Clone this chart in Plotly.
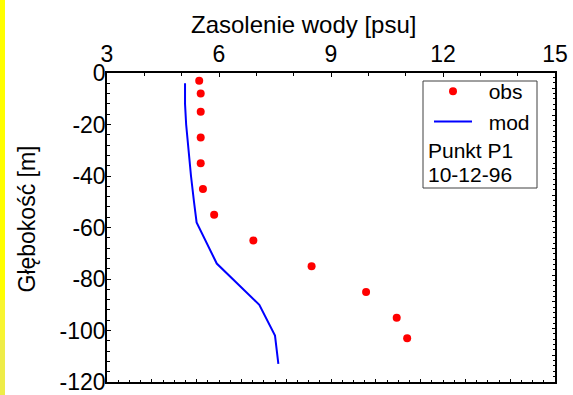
import plotly.graph_objects as go

# ---- data ----
obs_salinity = [5.47, 5.51, 5.51, 5.51, 5.51, 5.57, 5.87, 6.92, 8.48, 9.94, 10.76, 11.04]
obs_depth = [-3, -8, -15, -25, -35, -45, -55, -65, -75, -85, -95, -103]
mod_salinity = [5.09, 5.09, 5.12, 5.18, 5.25, 5.33, 5.40, 5.94, 7.08, 7.50, 7.55, 7.59]
mod_depth = [-4, -12, -20, -30, -40, -50, -58, -74, -90, -102, -108, -113]
x_ticks = [3, 6, 9, 12, 15]
y_ticks = [0, -20, -40, -60, -80, -100, -120]
x_title = "Zasolenie wody [psu]"
y_title = "Głębokość [m]"
note_lines = ["Punkt P1", "10-12-96"]

W, H = 573, 395
L, R, T, B = 107, 18, 73, 13
PW, PH = W - L - R, H - T - B

def px(xp):
    return (xp - L) / PW

def py(yp):
    return 1 - (yp - T) / PH

FONT = "Liberation Sans, Arial, sans-serif"
PAD = "\u00a0\u00a0"

fig = go.Figure()
fig.add_trace(go.Scatter(x=obs_salinity, y=obs_depth, mode="markers", name=PAD + "obs",
                         marker=dict(color="#ff0000", size=8)))
fig.add_trace(go.Scatter(x=mod_salinity, y=mod_depth, mode="lines", name=PAD + "mod",
                         line=dict(color="#0000ff", width=2)))
# empty trace to activate secondary (tick-only) axes on bottom/right
fig.add_trace(go.Scatter(x=[], y=[], xaxis="x2", yaxis="y2", showlegend=False,
                         hoverinfo="skip"))

axis_common = dict(showgrid=False, zeroline=False, showline=True, linecolor="black",
                   linewidth=1.5, ticks="inside", tickcolor="black", automargin=False)

fig.update_layout(
    width=W, height=H,
    margin=dict(l=L, r=R, t=T, b=B, autoexpand=False),
    paper_bgcolor="white", plot_bgcolor="white",
    font=dict(family=FONT, color="black"),
    showlegend=True,
    legend=dict(x=px(429), y=py(71), xanchor="left", yanchor="top",
                bgcolor="rgba(0,0,0,0)", borderwidth=0,
                font=dict(size=21, family=FONT), itemwidth=38,
                tracegroupgap=0),
    xaxis=dict(range=[3, 15], side="top", tickvals=x_ticks,
               ticktext=[str(v) for v in x_ticks], ticklen=4, tickwidth=1,
               ticklabeloverflow="allow",
               minor=dict(dtick=1, ticklen=3, ticks="inside", tickcolor="black"),
               tickfont=dict(size=23), **axis_common),
    yaxis=dict(range=[-120, 0], tickvals=y_ticks,
               ticktext=[str(v) for v in y_ticks], ticklen=4, tickwidth=1,
               ticklabelstandoff=-5, ticklabeloverflow="allow",
               minor=dict(dtick=4, ticklen=3, ticks="inside", tickcolor="black"),
               tickfont=dict(size=23), **axis_common),
    xaxis2=dict(range=[0, 10], overlaying="x", anchor="y2", side="bottom",
                dtick=1, ticklen=3, tickwidth=1, showticklabels=False,
                minor=dict(dtick=0.25, ticklen=2, ticks="inside", tickcolor="black"),
                **axis_common),
    yaxis2=dict(range=[0, PH / 26.7], overlaying="y", anchor="x2", side="right",
                dtick=1, ticklen=3, tickwidth=1, showticklabels=False,
                minor=dict(dtick=0.2, ticklen=2, ticks="inside", tickcolor="black"),
                **axis_common),
)

# legend frame
fig.add_shape(type="rect", xref="paper", yref="paper",
              x0=px(423), x1=px(537), y0=py(188), y1=py(81),
              line=dict(color="#404040", width=1), fillcolor="rgba(0,0,0,0)")

# yellow strip on the left edge
bands = [(0, 300, "#ffff00"), (300, 340, "#f8f530"), (340, 395, "#eeec48")]
for y0, y1, c in bands:
    fig.add_shape(type="rect", xref="paper", yref="paper",
                  x0=px(0), x1=px(5), y0=py(y1), y1=py(y0),
                  line=dict(width=0), fillcolor=c, layer="below")

annotations = [
    dict(text=x_title, x=px(303), y=py(24), xref="paper", yref="paper",
         xanchor="center", yanchor="middle", showarrow=False,
         font=dict(size=24, family=FONT)),
    dict(text=y_title, x=px(26), y=py(219.5), xref="paper", yref="paper",
         xanchor="center", yanchor="middle", textangle=-90, showarrow=False,
         font=dict(size=23, family=FONT)),
    dict(text=note_lines[0], x=px(426), y=py(150), xref="paper", yref="paper",
         xanchor="left", yanchor="middle", showarrow=False,
         font=dict(size=21, family=FONT)),
    dict(text=note_lines[1], x=px(426), y=py(174), xref="paper", yref="paper",
         xanchor="left", yanchor="middle", showarrow=False,
         font=dict(size=21, family=FONT)),
]
fig.update_layout(annotations=annotations)

fig.write_html("out.html", config={"displayModeBar": False},
               post_script="document.body.style.margin='0';document.body.style.overflow='hidden';")
